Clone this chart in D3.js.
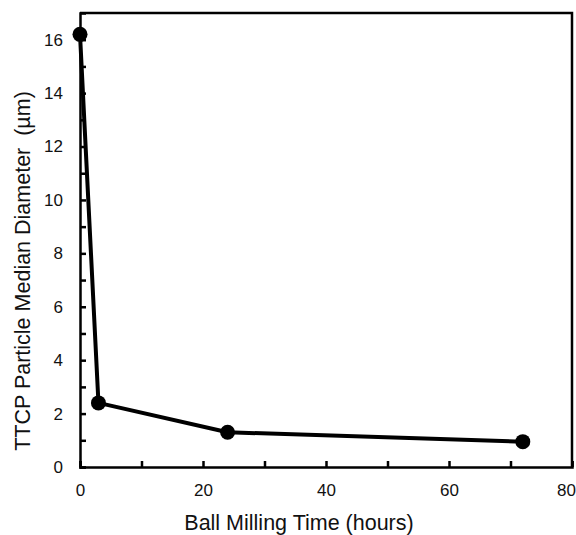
<!DOCTYPE html>
<html><head><meta charset="utf-8">
<script src="https://cdn.jsdelivr.net/npm/d3@7"></script>
<style>body{margin:0;background:#fff}text{font-family:"Liberation Sans",Arial,sans-serif;fill:#111}</style>
</head><body><svg id="c" width="576" height="535"></svg>
<script>
const hours = [0, 3, 24, 72];
const diameter = [16.2, 2.4, 1.3, 0.95];
const xTickLabels = [0, 20, 40, 60, 80];
const yTickLabels = [0, 2, 4, 6, 8, 10, 12, 14, 16];

const svg = d3.select("#c");
const L = 80, R = 572, T = 13, B = 467;
const x = d3.scaleLinear().domain([0, 80]).range([L, R]);
const y = d3.scaleLinear().domain([0, 17]).range([B, T]);

// frame
svg.append("path").attr("d", `M${L},${T}H${R}V${B}`).attr("fill","none").attr("stroke","#000").attr("stroke-width",2.5);

const xa = svg.append("g").attr("transform",`translate(0,${B})`)
  .call(d3.axisBottom(x).tickValues(d3.range(0,81,10)).tickSize(-6)
    .tickFormat(d => xTickLabels.includes(d) ? d : ""));
const ya = svg.append("g").attr("transform",`translate(${L},0)`)
  .call(d3.axisLeft(y).tickValues(d3.range(0,17,1)).tickSize(-6)
    .tickFormat(d => yTickLabels.includes(d) ? d : ""));
[xa, ya].forEach(a => {
  a.select(".domain").attr("stroke","#000").attr("stroke-width",2.5);
  a.selectAll(".tick line").attr("stroke","#000").attr("stroke-width",2.5);
  a.selectAll(".tick text").attr("font-size",17).attr("fill","#111");
});
xa.selectAll(".tick text").attr("dy","0.71em").attr("y",17)
  .attr("dx", d => d === 80 ? -6 : 0);
ya.selectAll(".tick text").attr("x",-17);

const pts = hours.map((h,i)=>[h, diameter[i]]);
svg.append("path").datum(pts)
  .attr("d", d3.line().x(d=>x(d[0])).y(d=>y(d[1])))
  .attr("fill","none").attr("stroke","#000").attr("stroke-width",4).attr("stroke-linejoin","round");
svg.selectAll("circle.pt").data(pts).join("circle").attr("class","pt")
  .attr("cx",d=>x(d[0])).attr("cy",d=>y(d[1])).attr("r",7.5).attr("fill","#000");

svg.append("text").attr("x",299).attr("y",530).attr("text-anchor","middle").attr("font-size",21.5).text("Ball Milling Time (hours)");
svg.append("text").attr("transform",`translate(30,271) rotate(-90)`).attr("text-anchor","middle").attr("font-size",21.5).attr("xml:space","preserve").text("TTCP Particle Median Diameter  (µm)");
</script></body></html>
